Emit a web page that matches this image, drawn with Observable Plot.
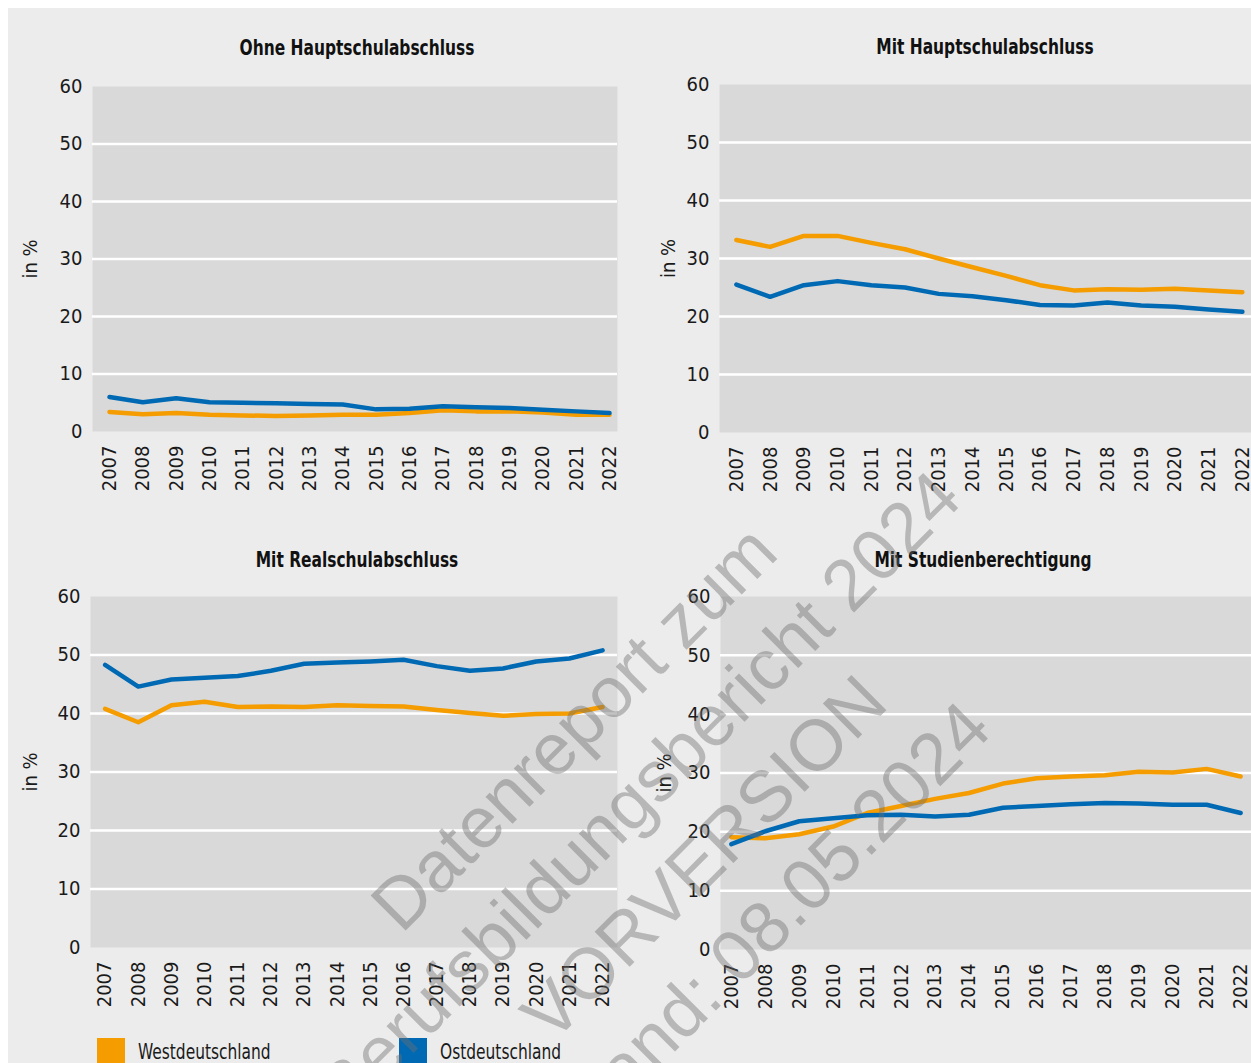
<!DOCTYPE html>
<html>
<head>
<meta charset="utf-8">
<script src="https://cdn.jsdelivr.net/npm/d3@7"></script>
<script src="https://cdn.jsdelivr.net/npm/@observablehq/plot@0.6"></script>
<style>
  html, body { margin: 0; padding: 0; background: #ffffff; }
  #wrap { position: relative; width: 1251px; height: 1063px; overflow: hidden; background: #ffffff;
          font-family: "DejaVu Sans Condensed", "Liberation Sans Narrow", sans-serif; color: #1a1a1a; }
  #bg { position: absolute; left: 8px; top: 8px; width: 1243px; height: 1055px; background: #ececec; }
  .panel { position: absolute; }
  .title { position: absolute; font-weight: bold; font-size: 22px; color: #111; white-space: nowrap;
           transform: translate(-50%, -50%) scaleX(0.78); transform-origin: 50% 50%; }
  .legend-swatch { position: absolute; width: 28px; height: 28px; }
  .legend-label { position: absolute; font-size: 22px; white-space: nowrap; color: #1a1a1a;
                  transform: scaleX(0.78); transform-origin: 0 50%; }
  #watermark { position: absolute; left: 671px; top: 825px; transform: translate(-50%, -50%) rotate(-45deg);
               font-family: "Liberation Sans", Arial, sans-serif; font-size: 72px; line-height: 92px;
               color: rgba(110, 110, 110, 0.42); text-align: center; white-space: nowrap; pointer-events: none; }
</style>
</head>
<body>
<div id="wrap">
  <div id="bg"></div>
</div>
<script>
// ---- data ----
const years = [2007, 2008, 2009, 2010, 2011, 2012, 2013, 2014, 2015, 2016, 2017, 2018, 2019, 2020, 2021, 2022];
const regions = ["Westdeutschland", "Ostdeutschland"];
const regionColors = ["#f49c00", "#0069b4"];
const panelTitles = ["Ohne Hauptschulabschluss", "Mit Hauptschulabschluss", "Mit Realschulabschluss", "Mit Studienberechtigung"];
const yTicks = [0, 10, 20, 30, 40, 50, 60];
const yLabel = "in %";

const ohneWest = [3.4, 3.0, 3.2, 2.9, 2.8, 2.7, 2.8, 2.9, 2.9, 3.2, 3.7, 3.5, 3.5, 3.3, 2.9, 2.9];
const ohneOst  = [6.0, 5.1, 5.8, 5.1, 5.0, 4.9, 4.8, 4.7, 3.85, 3.95, 4.4, 4.2, 4.1, 3.8, 3.5, 3.2];
const hauptWest = [33.2, 32.0, 33.9, 33.9, 32.7, 31.6, 30.0, 28.5, 27.0, 25.4, 24.5, 24.7, 24.6, 24.8, 24.5, 24.2];
const hauptOst  = [25.5, 23.4, 25.4, 26.1, 25.4, 25.0, 23.9, 23.5, 22.8, 22.0, 21.9, 22.4, 21.9, 21.7, 21.2, 20.8];
const realWest = [40.8, 38.5, 41.4, 42.0, 41.1, 41.2, 41.1, 41.4, 41.3, 41.2, 40.6, 40.1, 39.6, 39.9, 40.0, 41.1];
const realOst  = [48.3, 44.6, 45.8, 46.1, 46.4, 47.3, 48.5, 48.7, 48.9, 49.2, 48.1, 47.3, 47.7, 48.9, 49.4, 50.8];
const studWest = [19.1, 18.9, 19.6, 20.9, 23.2, 24.4, 25.6, 26.6, 28.2, 29.1, 29.4, 29.6, 30.2, 30.1, 30.7, 29.4];
const studOst  = [17.9, 20.1, 21.8, 22.3, 22.8, 22.9, 22.6, 22.9, 24.1, 24.4, 24.7, 24.9, 24.8, 24.6, 24.6, 23.2];

const seriesByPanel = [
  [ohneWest, ohneOst],
  [hauptWest, hauptOst],
  [realWest, realOst],
  [studWest, studOst]
];

// ---- layout (pixels, not data) ----
const layouts = [
  { left: 0,   top: 70,  width: 625, height: 431, ml: 92, mr: 8, mt: 16, mb: 70, lo: 70, xd: [2006.49, 2022.24], tx: 357, ty: 47 },
  { left: 630, top: 68,  width: 621, height: 434, ml: 89, mr: 0, mt: 16, mb: 70, lo: 59, xd: [2006.5, 2022.27],  tx: 985, ty: 46 },
  { left: 0,   top: 580, width: 625, height: 437, ml: 90, mr: 8, mt: 16, mb: 70, lo: 68, xd: [2006.56, 2022.45], tx: 357, ty: 559 },
  { left: 630, top: 580, width: 621, height: 439, ml: 90, mr: 0, mt: 16, mb: 70, lo: 64, xd: [2006.68, 2022.32], tx: 983, ty: 559 }
];

const wrap = document.getElementById("wrap");
const FONT = '"DejaVu Sans Condensed", "Liberation Sans Narrow", sans-serif';

panelTitles.forEach((title, i) => {
  const L = layouts[i];
  const rows = [];
  seriesByPanel[i].forEach((vals, r) => {
    years.forEach((yr, k) => rows.push({ year: yr, value: vals[k], region: regions[r] }));
  });
  const chart = Plot.plot({
    width: L.width,
    height: L.height,
    marginLeft: L.ml,
    marginRight: L.mr,
    marginTop: L.mt,
    marginBottom: L.mb,
    style: { background: "transparent", fontFamily: FONT, fontSize: "20px", color: "#1a1a1a", overflow: "visible" },
    x: { domain: L.xd, ticks: years, tickFormat: d => String(d), tickRotate: -90, tickSize: 0, tickPadding: 14, label: null },
    y: { domain: [0, 60], ticks: yTicks, tickSize: 0, tickPadding: 10, label: yLabel, labelAnchor: "center", labelArrow: false, labelOffset: L.lo },
    color: { domain: regions, range: regionColors },
    marks: [
      Plot.frame({ fill: "#d9d9d9", stroke: "none" }),
      Plot.ruleY(yTicks.filter(t => t > 0 && t < 60), { stroke: "#ffffff", strokeWidth: 2.5 }),
      Plot.line(rows, { x: "year", y: "value", z: "region", stroke: "region", strokeWidth: 4.5, strokeLinejoin: "round", strokeLinecap: "round" })
    ]
  });
  chart.classList.add("panel");
  chart.style.left = L.left + "px";
  chart.style.top = L.top + "px";
  wrap.appendChild(chart);

  const t = document.createElement("div");
  t.className = "title";
  t.textContent = title;
  t.style.left = L.tx + "px";
  t.style.top = L.ty + "px";
  wrap.appendChild(t);
});

// legend
const legendPos = [{ sx: 97, tx: 138 }, { sx: 399, tx: 440 }];
regions.forEach((r, i) => {
  const s = document.createElement("div");
  s.className = "legend-swatch";
  s.style.left = legendPos[i].sx + "px";
  s.style.top = "1038px";
  s.style.background = regionColors[i];
  wrap.appendChild(s);
  const l = document.createElement("div");
  l.className = "legend-label";
  l.style.left = legendPos[i].tx + "px";
  l.style.top = "1039px";
  l.textContent = r;
  wrap.appendChild(l);
});

// watermark
const wmLines = ["Datenreport zum", "Berufsbildungsbericht 2024", "VORVERSION", "Stand: 08.05.2024"];
const wm = document.createElement("div");
wm.id = "watermark";
wm.innerHTML = wmLines.map(s => "<div>" + s + "</div>").join("");
wrap.appendChild(wm);
</script>
</body>
</html>
